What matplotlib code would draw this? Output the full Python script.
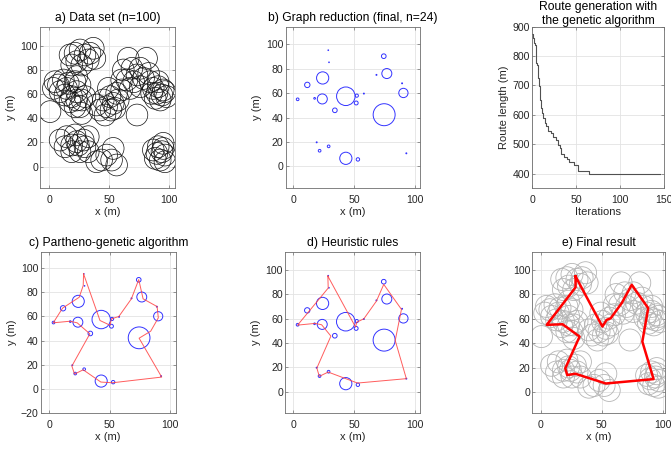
import numpy as np
import matplotlib
matplotlib.use("Agg")
import matplotlib.pyplot as plt
from matplotlib.patches import Circle

plt.rcParams['font.family'] = ['Liberation Sans', 'DejaVu Sans']

# -- data set (n=100): circle centres, common radius
data_x = [36.7, 21.4, 25.6, 29.7, 32.5, 22.8, 18.6, 27.0, 33.9, 17.2, 38.0,
          4.7, 3.3, 7.5, 11.7, 14.4, 8.9, 15.8, 21.4, 25.6, 13.0, 18.6, 17.2, 22.8,
          21.4, 27.0, 25.6, 29.7, 27.0, 22.8, 0.6, 22.8,
          45.0, 47.8, 50.6, 53.3, 56.1, 42.2, 51.4, 57.5, 60.3, 49.2, 46.4, 54.7, 39.4,
          65.8, 81.1, 61.7, 68.9, 75.8, 73.1, 64.7, 70.3, 78.6, 82.8, 84.2, 67.5, 75.8, 60.3,
          86.7, 90.8, 95.0, 89.7, 93.9, 96.4, 85.3, 92.5, 88.3, 97.8, 90.8,
          73.1,
          8.9, 14.4, 21.4, 28.3, 32.5, 13.0, 18.6, 24.2, 29.7, 18.6, 25.6, 32.5, 22.8,
          43.6, 47.8, 53.3, 51.9, 56.1, 39.4,
          86.7, 90.8, 95.0, 89.7, 93.9, 96.4, 92.5, 96.4, 88.3, 95.0]
data_y = [97.8, 93.7, 96.4, 92.3, 88.2, 86.8, 84.0, 84.0, 93.7, 92.3, 89.5,
          70.2, 64.7, 67.5, 71.6, 64.7, 62.0, 68.9, 70.2, 67.5, 59.2, 57.9, 53.7, 55.1,
          49.6, 55.1, 49.6, 57.9, 44.0, 62.0, 45.5, 74.4,
          55.1, 49.6, 57.9, 52.3, 60.6, 46.8, 46.8, 55.1, 63.4, 64.7, 42.7, 48.2, 51.0,
          89.5, 89.5, 79.9, 81.3, 81.3, 75.8, 71.6, 70.2, 72.9, 77.0, 70.2, 64.7, 66.1, 71.6,
          64.7, 66.1, 63.4, 60.6, 59.2, 62.0, 60.6, 55.1, 56.5, 57.9, 70.2,
          42.7,
          22.0, 24.8, 26.2, 22.0, 24.8, 16.5, 17.9, 17.9, 16.5, 12.4, 12.4, 12.4, 20.7,
          5.5, 9.6, 15.1, 5.5, 1.4, 4.1,
          13.8, 16.5, 19.3, 11.0, 12.4, 9.6, 5.5, 4.1, 6.9, 15.1]
data_radius = 9.0

# -- reduced graph (n=24): node centres and radii
node_x = [28.6, 29.2, 74.1, 76.6, 24.0, 11.4, 3.5, 17.4, 23.7, 43.0, 34.0, 52.0,
          51.5, 57.8, 68.1, 89.1, 90.2, 74.4, 19.1, 21.5, 28.9, 43.0, 52.9, 92.6]
node_y = [95.1, 85.2, 90.2, 76.0, 72.4, 66.7, 54.9, 55.7, 55.2, 57.4, 45.9, 57.9,
          51.9, 59.6, 74.9, 68.0, 60.1, 42.3, 19.7, 12.8, 16.4, 6.6, 5.7, 10.7]
node_r = [0.3, 0.3, 1.9, 4.1, 5.0, 2.2, 1.1, 0.7, 4.1, 7.6, 1.9, 1.3,
          1.6, 0.4, 0.4, 0.4, 3.8, 9.0, 0.4, 1.1, 1.1, 5.0, 1.4, 0.4]

# -- route from the partheno-genetic algorithm
route_c_x = [28.4, 28.1, 24.8, 11.0, 3.3, 17.1, 23.1, 33.6, 18.7, 20.9, 28.1, 42.7,
             52.3, 93.1, 74.4, 84.0, 90.3, 89.3, 77.7, 74.1, 68.0, 57.6, 51.5, 50.3, 42.0, 28.4]
route_c_y = [95.1, 85.4, 75.8, 66.8, 54.7, 56.0, 54.7, 45.6, 19.0, 12.4, 15.9, 5.8,
             5.2, 9.9, 42.0, 47.8, 58.8, 68.1, 74.5, 90.4, 74.5, 59.9, 58.0, 52.7, 56.6, 95.1]

# -- route after the heuristic rules
route_d_x = [28.3, 28.6, 3.5, 17.7, 23.2, 30.8, 19.3, 21.3, 28.6, 52.6, 92.6, 83.5,
             88.6, 74.1, 68.1, 57.8, 52.0, 51.0, 28.3]
route_d_y = [94.8, 85.0, 54.6, 56.0, 54.9, 45.6, 19.4, 12.6, 16.1, 7.1, 10.7, 42.0,
             67.5, 88.0, 74.3, 59.8, 57.0, 53.0, 94.8]

# -- final route
route_e_x = [28.5, 28.5, 4.9, 17.9, 31.8, 20.1, 21.7, 28.3, 53.3, 92.4, 83.2, 88.0,
             74.5, 66.3, 57.3, 54.0, 50.5, 28.5]
route_e_y = [94.8, 85.8, 55.1, 55.6, 45.5, 19.5, 14.0, 15.1, 7.1, 10.7, 41.4, 68.8,
             87.9, 72.9, 60.5, 59.2, 53.7, 94.8]

# -- convergence of the genetic algorithm
ga_iter = [0, 1, 2, 3, 4, 5, 6, 7, 8, 9, 10, 11, 12, 14, 16, 18, 21, 24, 27, 29,
           31, 33, 36, 40, 42, 47, 52, 65, 145]
ga_length = [874, 860, 845, 839, 777, 768, 750, 726, 698, 652, 622, 607, 590, 573,
             561, 544, 539, 525, 516, 499, 488, 466, 455, 449, 438, 429, 410, 398, 398]

FRAME = '#6e6e6e'
TEXT = '#262626'


def style_axes(ax, title, xlim, ylim, xticks, yticks, xlabel='x (m)', ylabel='y (m)'):
    """
    Give an axes the MATLAB look: boxed, inward ticks, light grid.
    """
    ax.set_xlim(xlim)
    ax.set_ylim(ylim)
    ax.set_xticks(xticks)
    ax.set_yticks(yticks)
    ax.grid(True, color='#e3e3e3', linewidth=0.6)
    ax.set_axisbelow(True)
    ax.tick_params(direction='in', length=2.5, width=0.5, colors=FRAME,
                   labelcolor=TEXT, labelsize=7.6, top=True, right=True)
    ax.tick_params(axis='x', pad=5)
    ax.tick_params(axis='y', pad=1.5)
    for s in ax.spines.values():
        s.set_color(FRAME)
        s.set_linewidth(0.6)
    ax.set_title(title, fontsize=8.7, color='black', pad=4)
    if xlabel:
        ax.set_xlabel(xlabel, fontsize=8, color=TEXT, labelpad=1.5)
    if ylabel:
        ax.set_ylabel(ylabel, fontsize=8, color=TEXT, labelpad=3)


def draw_circles(ax, xs, ys, rs, color, lw):
    for x, y, r in zip(xs, ys, rs):
        ax.add_patch(Circle((x, y), r, fill=False, edgecolor=color, linewidth=lw))


fig = plt.figure(figsize=(6.71, 4.49), dpi=100)
W, H = 671.0, 449.0


def add_axes(left, right, top, bottom):
    return fig.add_axes([left / W, 1 - bottom / H, (right - left) / W, (bottom - top) / H])


yt = [0, 20, 40, 60, 80, 100]
xt = [0, 50, 100]

# a) data set
ax = add_axes(40, 175, 27, 188)
draw_circles(ax, data_x, data_y, [data_radius] * len(data_x), '#111111', 0.5)
style_axes(ax, 'a) Data set (n=100)', (-7.8, 104.8), (-17.6, 115.4), xt, yt)

# b) graph reduction
ax = add_axes(285.7, 420, 27, 188)
draw_circles(ax, node_x, node_y, node_r, '#3333ff', 0.7)
style_axes(ax, 'b) Graph reduction (final, n=24)', (-6.3, 103.8), (-17.7, 114.1), xt, yt)

# route length vs iterations
ax = add_axes(532.3, 664, 26.7, 188.3)
ax.plot(ga_iter, ga_length, color='#505050', linewidth=0.8, drawstyle='steps-post')
style_axes(ax, 'Route generation with\nthe genetic algorithm', (0, 150), (350, 900),
           [0, 50, 100, 150], [400, 500, 600, 700, 800, 900],
           xlabel='Iterations', ylabel='Route length (m)')
ax.set_title('Route generation with\nthe genetic algorithm', fontsize=8.7,
             pad=2, linespacing=1.2)

# c) partheno-genetic algorithm
ax = add_axes(40.7, 175.7, 251.7, 413.3)
ax.plot(route_c_x, route_c_y, color='#ff4040', linewidth=0.7, alpha=0.85)
draw_circles(ax, node_x, node_y, node_r, '#3333ff', 0.7)
style_axes(ax, 'c) Partheno-genetic algorithm', (-7.1, 104.7), (-20, 113.4), xt,
           [-20, 0, 20, 40, 60, 80, 100])

# d) heuristic rules
ax = add_axes(285, 420, 251.7, 413.3)
ax.plot(route_d_x, route_d_y, color='#ff4040', linewidth=0.7, alpha=0.85)
draw_circles(ax, node_x, node_y, node_r, '#3333ff', 0.7)
style_axes(ax, 'd) Heuristic rules', (-6.8, 103.8), (-17.7, 114.8), xt, yt)

# e) final result
ax = add_axes(532.3, 665.3, 251.7, 413.3)
draw_circles(ax, data_x, data_y, [data_radius] * len(data_x), '#b5b5b5', 0.6)
ax.plot(route_e_x, route_e_y, color='red', linewidth=1.8)
style_axes(ax, 'e) Final result', (-6.9, 102), (-17.3, 115), xt, yt)

fig.savefig('out.png', dpi=100)
